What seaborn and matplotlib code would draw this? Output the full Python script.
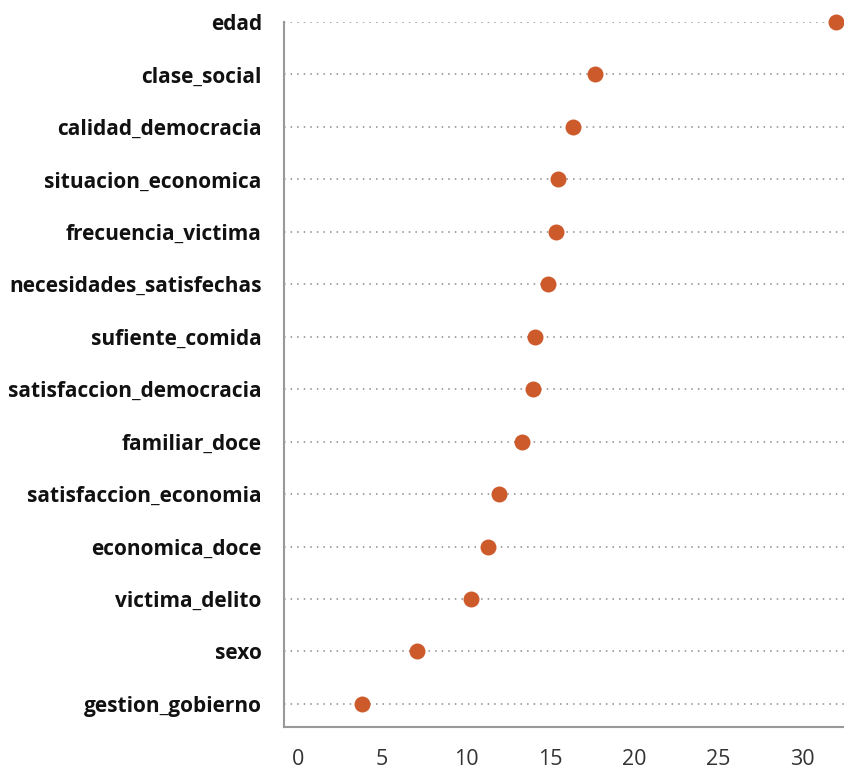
import matplotlib
matplotlib.use("Agg")
import matplotlib.pyplot as plt
import seaborn as sns
import pandas as pd

categories = ["edad", "clase_social", "calidad_democracia", "situacion_economica",
              "frecuencia_victima", "necesidades_satisfechas", "sufiente_comida",
              "satisfaccion_democracia", "familiar_doce", "satisfaccion_economia",
              "economica_doce", "victima_delito", "sexo", "gestion_gobierno"]
values = [32.0, 17.7, 16.35, 15.5, 15.35, 14.9, 14.1, 14.0, 13.35, 11.95, 11.3, 10.3, 7.1, 3.8]
x_ticks = [0, 5, 10, 15, 20, 25, 30]

df = pd.DataFrame({"variable": categories, "importance": values})

sns.set_theme(style="white")
plt.rcParams["font.family"] = ["Open Sans", "DejaVu Sans"]

fig = plt.figure(figsize=(8.45, 7.72), dpi=100)
ax = fig.add_axes([284 / 845, 1 - 727 / 772, 1 - 284 / 845, (727 - 22) / 772])

sns.stripplot(data=df, x="importance", y="variable", order=categories, jitter=False,
              color="#CD5A2A", size=11.5, linewidth=0, ax=ax, clip_on=False, zorder=3)

for i in range(len(categories)):
    ax.axhline(i, color="#8a8a8a", linewidth=1.1, linestyle=(0, (1, 3.3)), zorder=1)

ax.set_xlim(-0.83, 32.56)
ax.set_ylim(len(categories) - 1 + 0.44, 0)
ax.set_xticks(x_ticks)
ax.set_xticklabels([str(t) for t in x_ticks])
ax.set_xlabel("")
ax.set_ylabel("")

for s in ["top", "right"]:
    ax.spines[s].set_visible(False)
for s in ["left", "bottom"]:
    ax.spines[s].set_color("#999999")
    ax.spines[s].set_linewidth(1.5)

ax.tick_params(axis="x", length=8, width=1.5, color="#999999", labelsize=15.5,
               labelcolor="#333333", pad=8)
ax.tick_params(axis="y", length=0, labelsize=15, labelcolor="#111111", pad=16)
for lbl in ax.get_yticklabels():
    lbl.set_fontweight("bold")
ax.grid(False)

fig.savefig("out.png", dpi=100)
